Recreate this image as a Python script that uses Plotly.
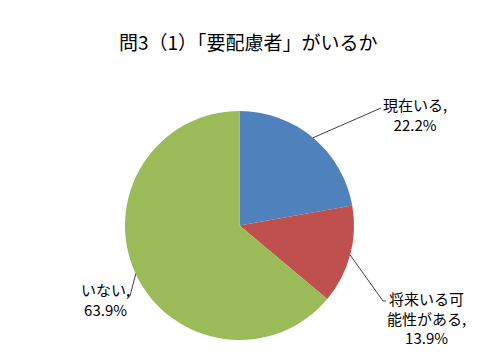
import math
import plotly.graph_objects as go

# ---- data ----
labels = ["現在いる", "将来いる可能性がある", "いない"]
label_text = ["現在いる,", "将来いる可<br>能性がある,", "いない,"]
values = [22.2, 13.9, 63.9]
title_text = "問3（1）「要配慮者」がいるか"

# ---- style / layout ----
colors = ["#4F81BD", "#C0504D", "#9BBB59"]
W, H = 480, 360
CX, CY, R = 239.5, 225.5, 114.5          # pie centre / radius in px
# leader-line elbow points and label centres (px)
elbows = [[(381, 108)], [(383, 301), (386, 301)], [(130, 296), (127, 296)]]
text_pos = [(414.5, 115), (426, 318), (105, 299)]
FONT = "Noto Sans CJK JP"

def px(x, y):
    return x / W, 1 - y / H

fig = go.Figure(go.Pie(
    labels=labels, values=values, sort=False, direction="clockwise",
    rotation=0, textinfo="none", hoverinfo="label+percent",
    marker=dict(colors=colors, line=dict(width=0)),
    domain=dict(x=[(CX - R) / W, (CX + R) / W],
                y=[1 - (CY + R) / H, 1 - (CY - R) / H]),
    showlegend=False,
))

total = sum(values)
cum = 0
shapes, annotations = [], []
for i, v in enumerate(values):
    mid = (cum + v / 2) / total * 2 * math.pi
    cum += v
    ex, ey = CX + R * math.sin(mid), CY - R * math.cos(mid)
    pts = [(ex, ey)] + elbows[i]
    path = "M " + " L ".join(f"{px(x, y)[0]:.5f},{px(x, y)[1]:.5f}" for x, y in pts)
    shapes.append(dict(type="path", xref="paper", yref="paper", path=path,
                       line=dict(color="#404040", width=1)))
    tx, ty = px(*text_pos[i])
    annotations.append(dict(
        x=tx, y=ty, xref="paper", yref="paper", showarrow=False,
        xanchor="center", yanchor="middle", align="center",
        text=f"{label_text[i]}<br>{v:.1f}%",
        font=dict(family=FONT, size=15, color="#000000")))

annotations.append(dict(
    x=px(248, 41)[0], y=px(248, 41)[1], xref="paper", yref="paper",
    showarrow=False, xanchor="center", yanchor="middle",
    text=title_text, font=dict(family=FONT, size=19, color="#000000")))

fig.update_layout(
    width=W, height=H, margin=dict(l=0, r=0, t=0, b=0),
    paper_bgcolor="white", plot_bgcolor="white",
    shapes=shapes, annotations=annotations,
)
fig.write_html("out.html", config={"displayModeBar": False},
               post_script="document.body.style.margin='0';")
